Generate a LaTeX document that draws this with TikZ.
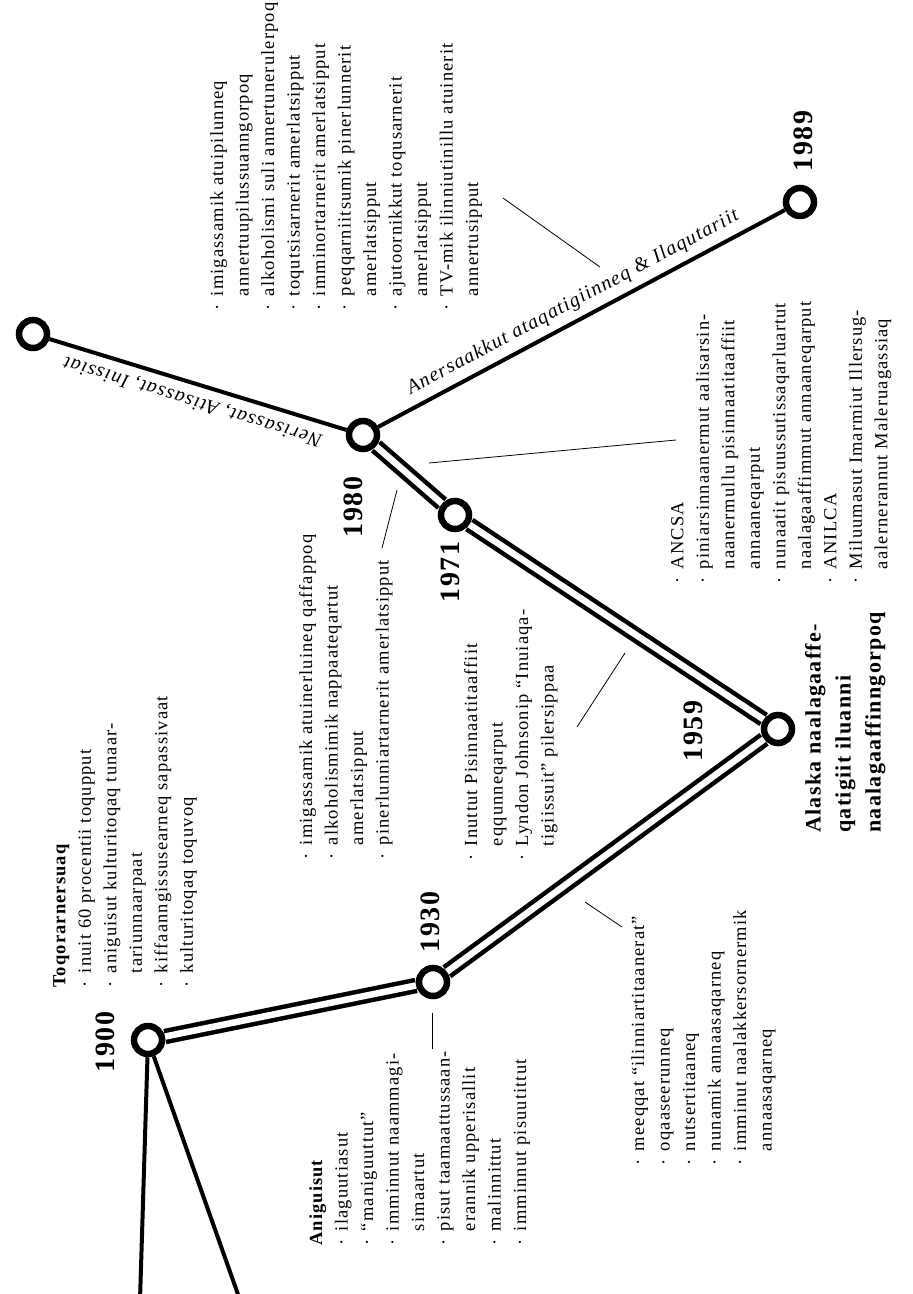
\documentclass[tikz,border=0pt]{standalone}
\usepackage{fontspec}
\setmainfont{Liberation Serif}[LetterSpace=6]
\pgfdeclarelayer{bg}
\pgfsetlayers{bg,main}
\newcommand{\bul}{\makebox[0.8em][l]{·}}
\newcommand{\ind}{\hspace*{0.8em}}

\begin{document}
\begin{tikzpicture}[x=1pt,y=-1pt,
	stn/.style={circle,draw,line width=6.5pt,fill=white,minimum size=28pt,inner sep=0pt},
	yr/.style={font=\bfseries\fontsize{28}{30}\selectfont,rotate=90,inner sep=0pt},
	lst/.style={font=\fontsize{18.5}{25.5}\selectfont,rotate=90,align=left,anchor=north west,inner sep=0pt},
	dbl/.style={line width=4.5pt,double=white,double distance=6.5pt},
	sgl/.style={line width=4pt},
	lbl/.style={font=\itshape\fontsize{20}{22}\selectfont,sloped,allow upside down,inner sep=7pt},
	lead/.style={line width=0.8pt}]
				\useasboundingbox (0,0) rectangle (913,1294);
				% stations
				\node[stn] (ntop) at (33,334) {};
				\node[stn] (n1980) at (363,435) {};
				\node[stn] (n1971) at (455,515) {};
				\node[stn] (n1959) at (778,729) {};
				\node[stn] (n1930) at (433,982) {};
				\node[stn] (n1900) at (148,1040) {};
				\node[stn] (n1989) at (800,202) {};
				\coordinate (bl) at (140,1300);
				\coordinate (br) at (240,1300);
				% years
				\node[yr] (y1900) at (105,1042) {1900};
				\node[yr] (y1930) at (430,922) {1930};
				\node[yr] (y1959) at (693,731) {1959};
				\node[yr] (y1971) at (450,572) {1971};
				\node[yr] (y1980) at (353,507) {1980};
				\node[yr] (y1989) at (803,141) {1989};
				% lines
				\begin{pgfonlayer}{bg}
				\draw[dbl] (n1900) -- (n1930) -- (n1959) -- (n1971) -- (n1980);
				\draw[sgl] (n1900) -- (bl);
				\draw[sgl] (n1900) -- (br);
				\draw[sgl] (n1980) to node[lbl,above] {Nerisassat, Atisassat, Inissiat} (ntop);
				\draw[sgl] (n1980) to node[lbl,above] {Anersaakkut ataqatigiinneq \& Ilaqutariit} (n1989);
				\end{pgfonlayer}
				% texts
				\node[lst] (l1989) at (210,311) {\bul imigassamik atuipilunneq\\ \ind annertuupilussuanngorpoq\\ \bul alkoholismi suli annertunerulerpoq\\ \bul toqutsisarnerit amerlatsipput\\ \bul imminortarnerit amerlatsipput\\ \bul peqqarniitsumik pinerlunnerit\\ \ind amerlatsipput\\ \bul ajutoornikkut toqusarnerit\\ \ind amerlatsipput\\ \bul TV-mik ilinniutinillu atuinerit\\ \ind annertusipput};
				\node[lst] (l1971) at (671,584) {\bul ANCSA\\ \bul piniarsinnaanermut aalisarsin-\\ \ind naanermullu pisinnaatitaaffiit\\ \ind annaaneqarput\\ \bul nunaatit pisuussutissaqarluartut\\ \ind naalagaaffimmut annaaneqarput\\ \bul ANILCA\\ \bul Miluumasut Imarmiut Illersug-\\ \ind aalernerannut Maleruagassiaq};
				\node[lst] (l1980) at (299,860) {\bul imigassamik atuinerluineq qaffappoq\\ \bul alkoholismimik nappaateqartut\\ \ind amerlatsipput\\ \bul pinerlunniartarnerit amerlatsipput};
				\node[lst] (l1959) at (464,861) {\bul Inuttut Pisinnaatitaaffiit\\ \ind eqqunneqarput\\ \bul Lyndon Johnsonip “Inuiaqa-\\ \ind tigiissuit” pilersippaa};
				\node[lst] (ltoq) at (53,988) {\textbf{Toqorarnersuaq}\\ \bul inuit 60 procentii toqupput\\ \bul aniguisut kulturitoqaq tunaar-\\ \ind tariunnaarpaat\\ \bul kiffaanngissusearneq sapassivaat\\ \bul kulturitoqaq toquvoq};
				\node[lst] (lani) at (309,1246) {\textbf{Aniguisut}\\ \bul ilaguutiasut\\ \bul “maniguuttut”\\ \bul imminnut naammagi-\\ \ind simaartut\\ \bul pisut taamaattussaan-\\ \ind erannik upperisallit\\ \bul malinnittut\\ \bul imminnut pisuutittut};
				\node[lst] (l1930) at (631,1166) {\bul meeqqat “ilinniartitaanerat”\\ \bul oqaaseerunneq\\ \bul nutsertitaaneq\\ \bul nunamik annaasaqarneq\\ \bul imminut naalakkersornermik\\ \ind annaasaqarneq};
				\node[lst,font=\bfseries\fontsize{22}{30}\selectfont] (lalaska) at (805,833) {Alaska naalagaaffe-\\qatigiit iluanni\\naalagaaffinngorpoq};
				% leaders
				\coordinate (a1) at (503,198); \coordinate (a2) at (600,267);
				\coordinate (b1) at (676,440); \coordinate (b2) at (429,463);
				\coordinate (c1) at (397,490); \coordinate (c2) at (382,548);
				\coordinate (d1) at (625,653); \coordinate (d2) at (577,727);
				\coordinate (e1) at (585,902); \coordinate (e2) at (622,927);
				\coordinate (f1) at (432,1013); \coordinate (f2) at (432,1049);
				\draw[lead] (a1) -- (a2);
				\draw[lead] (b1) -- (b2);
				\draw[lead] (c1) -- (c2);
				\draw[lead] (d1) -- (d2);
				\draw[lead] (e1) -- (e2);
				\draw[lead] (f1) -- (f2);
			\end{tikzpicture}
\end{document}
